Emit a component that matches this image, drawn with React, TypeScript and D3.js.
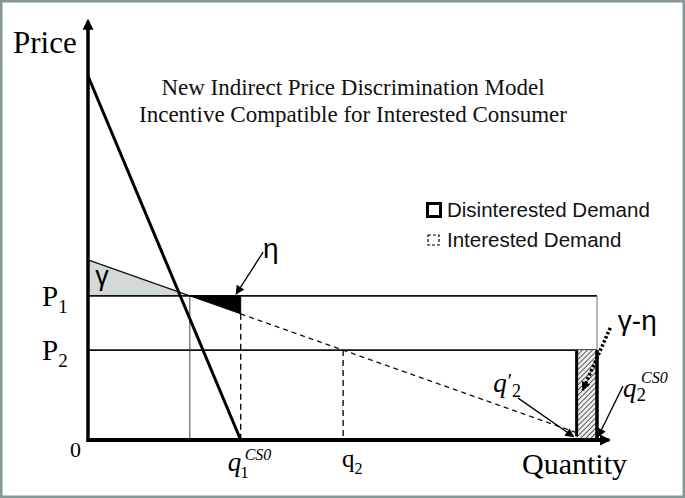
import * as d3 from "d3";

const W = 685;
const H = 498;

// text
const titleLines = [
  "New Indirect Price Discrimination Model",
  "Incentive Compatible for Interested Consumer",
];
const legendLabels = ["Disinterested Demand", "Interested Demand"];
const axisNames = ["Price", "Quantity"];

// price levels P1, P2
const priceSubs = ["1", "2"];
const priceLevels = [39.6, 24.7];

// demand curves as (quantity, price) end points
const disinterestedDemand: [number, number][] = [
  [0, 100],
  [30, 0],
];
const interestedDemand: [number, number][] = [
  [0, 49.5],
  [96, 2.0],
];

// quantities marked on the axis
const q1 = 30; // q1 CS0
const q2Prime = 96; // q2'
const q2cs0 = 100; // q2 CS0

// annotation arrows [from, to] in (quantity, price)
const etaArrow: [number, number][] = [
  [34.4, 51.6],
  [29.1, 40.1],
];
const gammaEtaArrow: [number, number][] = [
  [102.6, 30.8],
  [97.2, 13.7],
];
const q2PrimeArrow: [number, number][] = [
  [84.5, 11.5],
  [95.4, 0.9],
];
const q2cs0Arrow: [number, number][] = [
  [105.1, 14.8],
  [100.2, 0.9],
];

const serif = "'Liberation Serif', 'Times New Roman', serif";
const sans = "'Liberation Sans', Arial, sans-serif";

const App = () => {
  const x = d3.scaleLinear().domain([0, 100]).range([88, 597]);
  const y = d3.scaleLinear().domain([0, 100]).range([440, 76]);

  const line = d3
    .line<[number, number]>()
    .x((d) => x(d[0]))
    .y((d) => y(d[1]));

  // interested demand price as function of quantity
  const dI = d3
    .scaleLinear()
    .domain([interestedDemand[0][0], interestedDemand[1][0]])
    .range([interestedDemand[0][1], interestedDemand[1][1]]);
  const dD = d3
    .scaleLinear()
    .domain([disinterestedDemand[0][0], disinterestedDemand[1][0]])
    .range([disinterestedDemand[0][1], disinterestedDemand[1][1]]);

  const [P1, P2] = priceLevels;
  const qKink = dI.invert(P1);
  const q2 = dI.invert(P2);
  const qCross = dD.invert(P1);

  const gammaArea: [number, number][] = [
    [0, dI(0)],
    [qCross, dI(qCross)],
    [qCross, P1],
    [0, P1],
  ];
  const etaArea: [number, number][] = [
    [qKink, P1],
    [q1, P1],
    [q1, dI(q1)],
  ];

  const qMax = 103.1;
  const pMax = 116.2;

  return (
    <svg
      width={W}
      height={H}
      style={{ position: "absolute", left: 0, top: 0, background: "#fff" }}
    >
      <defs>
        <marker
          id="axisHead"
          viewBox="0 0 10 10"
          refX="8"
          refY="5"
          markerUnits="userSpaceOnUse"
          markerWidth="13"
          markerHeight="11"
          orient="auto"
        >
          <path d="M0,0 L10,5 L0,10 Z" fill="#000" />
        </marker>
        <marker
          id="head"
          viewBox="0 0 10 10"
          refX="9"
          refY="5"
          markerUnits="userSpaceOnUse"
          markerWidth="11"
          markerHeight="9"
          orient="auto"
        >
          <path d="M0,0 L10,5 L0,10 Z" fill="#000" />
        </marker>
        <pattern
          id="hatch"
          width="3.6"
          height="3.6"
          patternUnits="userSpaceOnUse"
          patternTransform="rotate(45)"
        >
          <rect width="3.6" height="3.6" fill="#eee" />
          <line x1="0" y1="0" x2="0" y2="3.6" stroke="#222" strokeWidth="1.4" />
        </pattern>
      </defs>

      <rect
        x={1.25}
        y={1.25}
        width={W - 2.5}
        height={H - 2.5}
        fill="#fff"
        stroke="#869898"
        strokeWidth={2.5}
      />

      {/* title */}
      {titleLines.map((t, i) => (
        <text
          key={t}
          x={353}
          y={95 + i * 27}
          textAnchor="middle"
          fontFamily={serif}
          fontSize={23}
          fill="#111"
        >
          {t}
        </text>
      ))}

      {/* legend */}
      <rect x={427.5} y={203.5} width={13} height={13} fill="none" stroke="#000" strokeWidth={3} />
      <rect
        x={428}
        y={235}
        width={11}
        height={10}
        fill="none"
        stroke="#000"
        strokeWidth={1.2}
        strokeDasharray="3,2"
      />
      {legendLabels.map((t, i) => (
        <text key={t} x={447} y={217 + i * 30} fontFamily={sans} fontSize={20.5} fill="#111">
          {t}
        </text>
      ))}

      {/* gamma region */}
      <path d={line(gammaArea) + "Z"} fill="#d3d9d7" />
      <text x={x(1.4)} y={y(42.6)} fontFamily={sans} fontSize={27} fill="#000">
        γ
      </text>

      {/* price lines */}
      {priceLevels.map((p) => (
        <line
          key={p}
          x1={x(0)}
          x2={x(q2cs0)}
          y1={y(p)}
          y2={y(p)}
          stroke="#111"
          strokeWidth={1.6}
        />
      ))}
      <line x1={x(q2cs0)} x2={x(q2cs0)} y1={y(P1)} y2={y(P2)} stroke="#777" strokeWidth={1} />
      <line x1={x(qKink)} x2={x(qKink)} y1={y(P1)} y2={y(0)} stroke="#444" strokeWidth={1} />

      {/* hatched gamma - eta block */}
      <rect
        x={x(q2Prime)}
        y={y(P2)}
        width={x(q2cs0) - x(q2Prime)}
        height={y(0) - y(P2)}
        fill="url(#hatch)"
      />
      <line x1={x(q2Prime)} x2={x(q2Prime)} y1={y(P2)} y2={y(1)} stroke="#000" strokeWidth={3} />
      <line x1={x(q2cs0)} x2={x(q2cs0)} y1={y(P2)} y2={y(0)} stroke="#000" strokeWidth={3.5} />

      {/* interested demand */}
      <path d={line([interestedDemand[0], [qKink, P1]]) ?? ""} fill="none" stroke="#111" strokeWidth={1.3} />
      <path d={line(etaArea) + "Z"} fill="#000" stroke="#000" strokeWidth={1} />
      <path
        d={line([[q1, dI(q1)], interestedDemand[1]]) ?? ""}
        fill="none"
        stroke="#111"
        strokeWidth={1.3}
        strokeDasharray="5,4"
      />
      <line
        x1={x(q1)}
        x2={x(q1)}
        y1={y(dI(q1))}
        y2={y(0)}
        stroke="#111"
        strokeWidth={1.4}
        strokeDasharray="6,4"
      />
      <line
        x1={x(q2)}
        x2={x(q2)}
        y1={y(P2)}
        y2={y(0)}
        stroke="#111"
        strokeWidth={1.4}
        strokeDasharray="6,4"
      />

      {/* disinterested demand */}
      <path d={line(disinterestedDemand) ?? ""} fill="none" stroke="#000" strokeWidth={3} />

      {/* axes */}
      <line
        x1={x(0)}
        x2={x(0)}
        y1={y(0) + 2}
        y2={y(pMax) + 4}
        stroke="#000"
        strokeWidth={3.5}
        markerEnd="url(#axisHead)"
      />
      <line
        x1={x(0) - 1.5}
        x2={x(qMax) - 4}
        y1={y(0)}
        y2={y(0)}
        stroke="#000"
        strokeWidth={4}
        markerEnd="url(#axisHead)"
      />

      {/* annotation arrows */}
      {[etaArrow, q2PrimeArrow, q2cs0Arrow].map((a, i) => (
        <path
          key={i}
          d={line(a) ?? ""}
          stroke="#000"
          strokeWidth={1.3}
          fill="none"
          markerEnd="url(#head)"
        />
      ))}
      <path
        d={line(gammaEtaArrow) ?? ""}
        stroke="#000"
        strokeWidth={3.5}
        strokeDasharray="2.5,2"
        fill="none"
        markerEnd="url(#head)"
      />

      {/* labels */}
      <text x={13} y={53} fontFamily={serif} fontSize={31} fill="#000">
        {axisNames[0]}
      </text>
      <text x={522} y={474} fontFamily={serif} fontSize={30} fill="#000">
        {axisNames[1]}
      </text>
      {priceLevels.map((p, i) => (
        <text key={p} x={42} y={y(p) + 10} fontFamily={serif} fontSize={29} fill="#000">
          P
          <tspan fontSize={19} dy={7}>
            {priceSubs[i]}
          </tspan>
        </text>
      ))}
      <text x={81} y={457} textAnchor="end" fontFamily={serif} fontSize={22} fill="#000">
        0
      </text>

      {/* q1 CS0 */}
      <text x={x(q1) - 13} y={471} fontFamily={serif} fontStyle="italic" fontSize={27} fill="#000">
        q
        <tspan fontStyle="normal" fontSize={17} dx={-1} dy={7}>
          1
        </tspan>
        <tspan fontSize={16} dx={-4} dy={-18}>
          CS0
        </tspan>
      </text>

      {/* q2 */}
      <text x={x(q2) - 1} y={467} fontFamily={serif} fontSize={25} fill="#000">
        q
        <tspan fontSize={16} dy={7}>
          2
        </tspan>
      </text>

      {/* eta */}
      <text x={x(34.4)} y={y(50)} fontFamily={sans} fontSize={28} fill="#000">
        η
      </text>
      {/* gamma - eta */}
      <text x={x(104.1)} y={y(30.2)} fontFamily={sans} fontSize={28} fill="#000">
        γ-η
      </text>

      {/* q2' */}
      <text x={x(79.6)} y={y(13.2)} fontFamily={serif} fontStyle="italic" fontSize={27} fill="#000">
        q
        <tspan fontStyle="normal" fontSize={20} dx={1} dy={-4}>
          ′
        </tspan>
        <tspan fontStyle="normal" fontSize={18} dx={0} dy={9}>
          2
        </tspan>
      </text>

      {/* q2 CS0 */}
      <text x={x(105.1)} y={y(11.8)} fontFamily={serif} fontStyle="italic" fontSize={27} fill="#000">
        q
        <tspan fontStyle="normal" fontSize={19} dx={0} dy={4}>
          2
        </tspan>
        <tspan fontSize={16} dx={-5} dy={-18}>
          CS0
        </tspan>
      </text>
    </svg>
  );
};

export default App;
